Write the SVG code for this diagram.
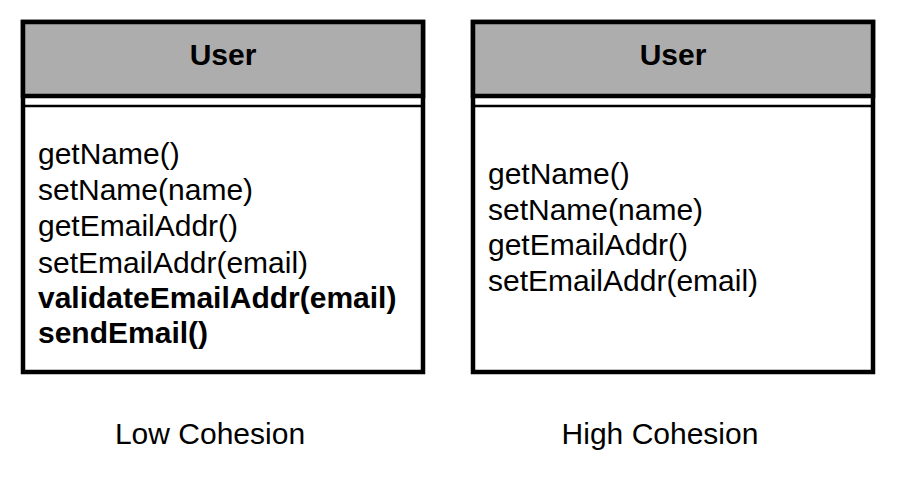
<svg xmlns="http://www.w3.org/2000/svg" width="910" height="500" viewBox="0 0 910 500">
<style>
.box{fill:#ffffff;stroke:#000;stroke-width:4.5}
.hdr{fill:#adadad;stroke:#000;stroke-width:4.5}
.thin{stroke:#000;stroke-width:2.5;fill:none}
text{font-family:"Liberation Sans",Arial,sans-serif;font-size:30px;fill:#000}
.b{font-weight:bold}
.t{font-weight:bold;text-anchor:middle}
.c{text-anchor:middle}
</style>
<rect width="910" height="500" fill="#fff"/>
<g id="low-cohesion-class">
<rect class="box" x="23" y="22" width="400" height="350"/>
<rect class="hdr" x="23" y="22" width="400" height="74"/>
<line class="thin" x1="23" y1="106" x2="423" y2="106"/>
<text class="t" x="223" y="65">User</text>
<text x="38" y="164">getName()</text>
<text x="38" y="200">setName(name)</text>
<text x="38" y="236">getEmailAddr()</text>
<text x="38" y="273">setEmailAddr(email)</text>
<text class="b" x="38" y="308">validateEmailAddr(email)</text>
<text class="b" x="38" y="343">sendEmail()</text>
</g>
<g id="high-cohesion-class">
<rect class="box" x="473" y="22" width="400" height="350"/>
<rect class="hdr" x="473" y="22" width="400" height="74"/>
<line class="thin" x1="473" y1="106" x2="873" y2="106"/>
<text class="t" x="673" y="65">User</text>
<text x="488" y="184">getName()</text>
<text x="488" y="220">setName(name)</text>
<text x="488" y="255">getEmailAddr()</text>
<text x="488" y="291">setEmailAddr(email)</text>
</g>
<g id="label-low"><text class="c" x="210" y="444">Low Cohesion</text></g>
<g id="label-high"><text class="c" x="660" y="444">High Cohesion</text></g>
<g id="connectors"></g>
</svg>
